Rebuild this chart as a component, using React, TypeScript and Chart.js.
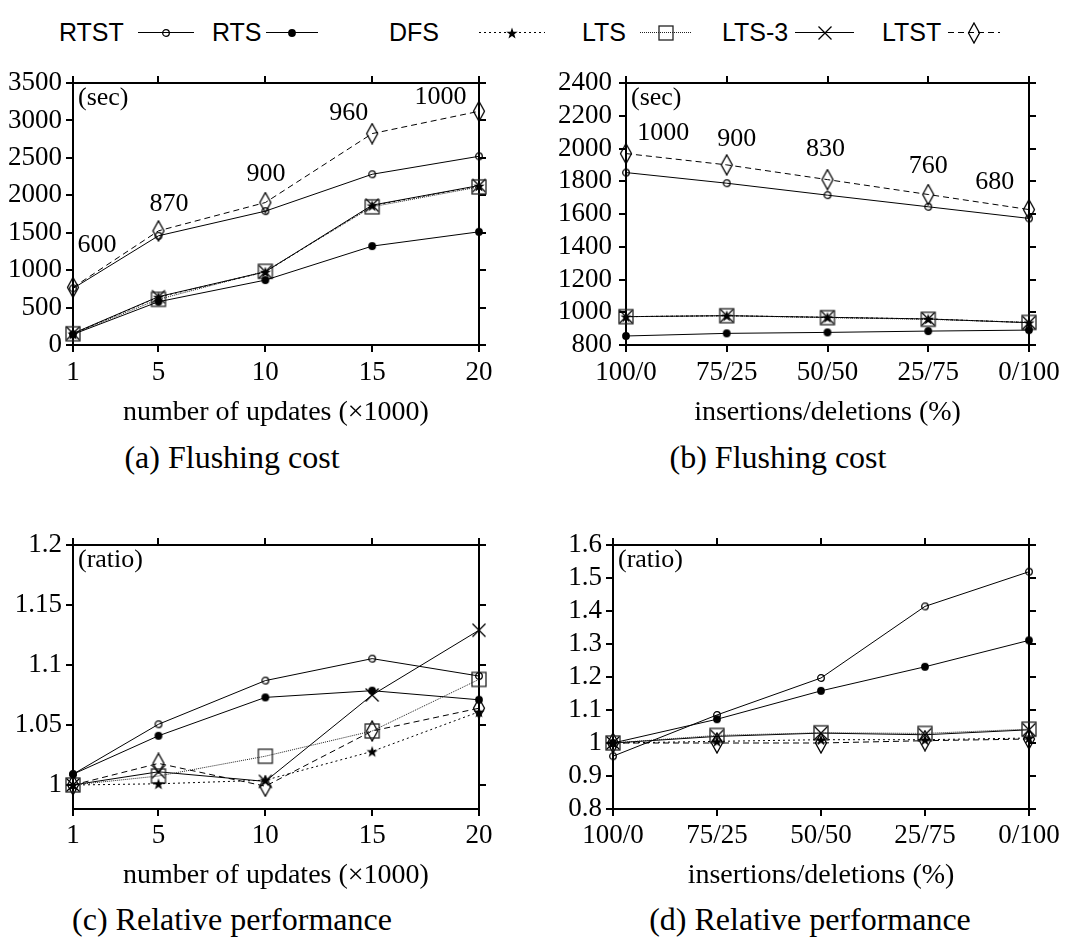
import React, { useEffect, useRef } from "react";
import { Chart, registerables } from "chart.js";
Chart.register(...registerables);

const SERIF = '"Liberation Serif", "Times New Roman", serif';
const SANS = '"Liberation Sans", Arial, sans-serif';

const seriesNames = ["RTST", "RTS", "DFS", "LTS", "LTS-3", "LTST"];

// ---- (a) flushing cost vs number of updates
const updates = [1, 5, 10, 15, 20];
const flushA_RTST = [756, 1459, 1788, 2281, 2521];
const flushA_RTS = [142, 578, 867, 1321, 1512];
const flushA_DFS = [150, 640, 975, 1862, 2125];
const flushA_LTS = [150, 610, 985, 1846, 2112];
const flushA_LTS3 = [155, 645, 978, 1868, 2130];
const flushA_LTST = [769, 1525, 1903, 2824, 3122];
const flushA_ticks = [0, 500, 1000, 1500, 2000, 2500, 3000, 3500];
const flushA_notes = ["600", "870", "900", "960", "1000"];
const flushA_noteX = [2.12, 5.49, 10.03, 13.9, 18.2];
const flushA_noteY = [1336, 1884, 2284, 3099, 3313];

// ---- (b) flushing cost vs insertions/deletions
const mixes = ["100/0", "75/25", "50/50", "25/75", "0/100"];
const flushB_RTST = [1853, 1788, 1715, 1644, 1573];
const flushB_RTS = [855, 871, 877, 885, 891];
const flushB_DFS = [973, 979, 969, 959, 937];
const flushB_LTS = [973, 979, 967, 957, 938];
const flushB_LTS3 = [973, 979, 969, 959, 936];
const flushB_LTST = [1969, 1900, 1810, 1719, 1627];
const flushB_ticks = [800, 1000, 1200, 1400, 1600, 1800, 2000, 2200, 2400];
const flushB_notes = ["1000", "900", "830", "760", "680"];
const flushB_noteX = [0.37, 1.1, 1.98, 3.0, 3.66];
const flushB_noteY = [2096, 2056, 1997, 1893, 1797];

// ---- (c) relative performance vs number of updates
const relC_RTST = [1.009, 1.0506, 1.087, 1.1053, 1.0908];
const relC_RTS = [1.009, 1.041, 1.073, 1.0786, 1.071];
const relC_DFS = [1.0, 1.001, 1.004, 1.028, 1.061];
const relC_LTS = [1.0, 1.0075, 1.024, 1.045, 1.088];
const relC_LTS3 = [1.0, 1.011, 1.003, 1.075, 1.129];
const relC_LTST = [1.0, 1.018, 0.999, 1.045, 1.064];
const relC_ticks = [1, 1.05, 1.1, 1.15, 1.2];

// ---- (d) relative performance vs insertions/deletions
const relD_RTST = [0.96, 1.085, 1.197, 1.414, 1.519];
const relD_RTS = [1.0, 1.072, 1.158, 1.231, 1.311];
const relD_DFS = [1.0, 1.005, 1.01, 1.01, 1.015];
const relD_LTS = [1.0, 1.023, 1.031, 1.029, 1.042];
const relD_LTS3 = [1.0, 1.02, 1.03, 1.025, 1.04];
const relD_LTST = [1.0, 1.0, 1.0, 1.007, 1.012];
const relD_ticks = [0.8, 0.9, 1.0, 1.1, 1.2, 1.3, 1.4, 1.5, 1.6];

// ---- styles
const seriesStyle = [
  { marker: "circle", dash: [], color: "#000" },
  { marker: "dot", dash: [], color: "#000" },
  { marker: "star", dash: [2, 3], color: "#000" },
  { marker: "square", dash: [1, 1], color: "#222" },
  { marker: "cross", dash: [], color: "#000" },
  { marker: "diamond", dash: [6, 4], color: "#000" },
];

function makeMarker(kind: string): HTMLCanvasElement {
  const c = document.createElement("canvas");
  const dims: any = {
    circle: [10, 10],
    dot: [10, 10],
    star: [14, 14],
    square: [18, 18],
    cross: [16, 16],
    diamond: [14, 22],
  };
  const [w, h] = dims[kind];
  c.width = w;
  c.height = h;
  const g = c.getContext("2d")!;
  g.strokeStyle = "#000";
  g.fillStyle = "#000";
  g.lineWidth = 1.3;
  const cx = w / 2;
  const cy = h / 2;
  if (kind === "circle") {
    g.beginPath();
    g.arc(cx, cy, 3.3, 0, Math.PI * 2);
    g.stroke();
  } else if (kind === "dot") {
    g.beginPath();
    g.arc(cx, cy, 3.9, 0, Math.PI * 2);
    g.fill();
  } else if (kind === "star") {
    g.beginPath();
    for (let i = 0; i < 10; i++) {
      const r = i % 2 === 0 ? 6 : 2.4;
      const a = -Math.PI / 2 + (i * Math.PI) / 5;
      const px = cx + r * Math.cos(a);
      const py = cy + 0.6 + r * Math.sin(a);
      if (i === 0) g.moveTo(px, py);
      else g.lineTo(px, py);
    }
    g.closePath();
    g.fill();
  } else if (kind === "square") {
    g.strokeStyle = "#222";
    g.strokeRect(2, 2, w - 4, h - 4);
  } else if (kind === "cross") {
    g.beginPath();
    g.moveTo(1.5, 1.5);
    g.lineTo(w - 1.5, h - 1.5);
    g.moveTo(w - 1.5, 1.5);
    g.lineTo(1.5, h - 1.5);
    g.stroke();
  } else if (kind === "diamond") {
    g.beginPath();
    g.moveTo(cx, 1);
    g.lineTo(w - 1.5, cy);
    g.lineTo(cx, h - 1);
    g.lineTo(1.5, cy);
    g.closePath();
    g.stroke();
  }
  return c;
}

const notesPlugin = {
  id: "notes",
  afterDatasetsDraw(chart: any, _args: any, opts: any) {
    const { ctx, chartArea } = chart;
    const xs = chart.scales.x;
    const ys = chart.scales.y;
    ctx.save();
    ctx.fillStyle = "#000";
    ctx.font = `26px ${SERIF}`;
    ctx.textBaseline = "middle";
    ctx.textAlign = "center";
    const texts = opts.texts || [];
    for (let i = 0; i < texts.length; i++) {
      ctx.fillText(texts[i], xs.getPixelForValue(opts.xs[i]), ys.getPixelForValue(opts.ys[i]));
    }
    ctx.textAlign = "left";
    ctx.fillText(opts.unit, chartArea.left + 5, chartArea.top + 15);
    ctx.restore();
  },
};

type PanelCfg = {
  key: string;
  left: number;
  top: number;
  width: number;
  height: number;
  area: { l: number; t: number; r: number; b: number };
  categorical: boolean;
  series: number[][];
  yTicks: number[];
  yMin: number;
  yMax: number;
  xTitle: string;
  unit: string;
  notes?: string[];
  noteX?: number[];
  noteY?: number[];
  yPad: number;
  xPad: number;
};

const panels: PanelCfg[] = [
  {
    key: "a", left: 0, top: 50, width: 540, height: 382,
    area: { l: 73, t: 83, r: 479, b: 345 },
    categorical: false,
    series: [flushA_RTST, flushA_RTS, flushA_DFS, flushA_LTS, flushA_LTS3, flushA_LTST],
    yTicks: flushA_ticks, yMin: 0, yMax: 3500,
    xTitle: "number of updates (×1000)", unit: "(sec)",
    notes: flushA_notes, noteX: flushA_noteX, noteY: flushA_noteY,
    yPad: 4, xPad: 5,
  },
  {
    key: "b", left: 540, top: 50, width: 543, height: 382,
    area: { l: 626, t: 83, r: 1029, b: 345 },
    categorical: true,
    series: [flushB_RTST, flushB_RTS, flushB_DFS, flushB_LTS, flushB_LTS3, flushB_LTST],
    yTicks: flushB_ticks, yMin: 800, yMax: 2400,
    xTitle: "insertions/deletions (%)", unit: "(sec)",
    notes: flushB_notes, noteX: flushB_noteX, noteY: flushB_noteY,
    yPad: 7, xPad: 5,
  },
  {
    key: "c", left: 0, top: 510, width: 540, height: 385,
    area: { l: 73, t: 545, r: 479, b: 809 },
    categorical: false,
    series: [relC_RTST, relC_RTS, relC_DFS, relC_LTS, relC_LTS3, relC_LTST],
    yTicks: relC_ticks, yMin: 0.98, yMax: 1.2,
    xTitle: "number of updates (×1000)", unit: "(ratio)",
    yPad: 4, xPad: 4,
  },
  {
    key: "d", left: 540, top: 510, width: 543, height: 385,
    area: { l: 613, t: 545, r: 1029, b: 809 },
    categorical: true,
    series: [relD_RTST, relD_RTS, relD_DFS, relD_LTS, relD_LTS3, relD_LTST],
    yTicks: relD_ticks, yMin: 0.8, yMax: 1.6,
    xTitle: "insertions/deletions (%)", unit: "(ratio)",
    yPad: 4, xPad: 4,
  },
];

const captions = [
  { text: "(a) Flushing cost", cx: 232, cy: 457 },
  { text: "(b) Flushing cost", cx: 778, cy: 457 },
  { text: "(c) Relative performance", cx: 232, cy: 919 },
  { text: "(d) Relative performance", cx: 810, cy: 919 },
];

const legendLayout = [
  { text: 59, sym: 138, w: 56 },
  { text: 212, sym: 266, w: 52 },
  { text: 389, sym: 479, w: 66 },
  { text: 582, sym: 640, w: 52 },
  { text: 722, sym: 795, w: 59 },
  { text: 882, sym: 948, w: 52 },
];

function fmt(v: number) {
  return String(Math.round(v * 1000) / 1000);
}

function buildConfig(p: PanelCfg): any {
  const markers = seriesStyle.map((s) => makeMarker(s.marker));
  const datasets = p.series.map((vals, i) => ({
    label: seriesNames[i],
    data: p.categorical ? vals : vals.map((v, j) => ({ x: updates[j], y: v })),
    borderColor: seriesStyle[i].color,
    backgroundColor: "transparent",
    borderWidth: 1,
    borderDash: seriesStyle[i].dash,
    pointStyle: markers[i],
    pointRadius: 5,
    fill: false,
    tension: 0,
    clip: false,
  }));

  const zeroPad = (s: any) => {
    s.paddingLeft = 0;
    s.paddingRight = 0;
    s.paddingTop = 0;
    s.paddingBottom = 0;
  };
  const grid = {
    display: true,
    drawOnChartArea: false,
    drawTicks: true,
    tickLength: 7,
    tickWidth: 2,
    tickColor: "#000",
    color: "#000",
    lineWidth: 2,
  };
  const border = { display: true, color: "#000", width: 2 };
  const tickFont = { family: SERIF, size: 27 };

  const areaLeft = p.area.l - p.left;
  const areaRight = p.left + p.width - p.area.r;
  const areaTop = p.area.t - p.top;
  const areaBottom = p.top + p.height - p.area.b;

  const xBase: any = p.categorical
    ? { type: "category", labels: mixes, offset: false }
    : {
        type: "linear",
        min: updates[0],
        max: updates[updates.length - 1],
        afterBuildTicks: (s: any) => {
          s.ticks = updates.map((v) => ({ value: v }));
        },
      };
  const yBase: any = {
    type: "linear",
    min: p.yMin,
    max: p.yMax,
    afterBuildTicks: (s: any) => {
      s.ticks = p.yTicks.map((v) => ({ value: v }));
    },
  };

  return {
    type: "line",
    data: { labels: p.categorical ? mixes : undefined, datasets },
    plugins: [notesPlugin],
    options: {
      responsive: false,
      animation: false,
      devicePixelRatio: 1,
      events: [],
      layout: {
        padding: { left: 0, top: areaTop - 7, right: areaRight - 7, bottom: 0 },
      },
      plugins: {
        legend: { display: false },
        tooltip: { enabled: false },
        notes: {
          texts: p.notes || [],
          xs: p.noteX || [],
          ys: p.noteY || [],
          unit: p.unit,
        },
      },
      scales: {
        x: {
          ...xBase,
          position: "bottom",
          grid,
          border,
          ticks: {
            font: tickFont,
            color: "#000",
            padding: p.xPad,
            maxRotation: 0,
            autoSkip: false,
            callback: function (this: any, v: any, idx: number) {
              return p.categorical ? mixes[idx] : String(v);
            },
          },
          title: {
            display: true,
            text: p.xTitle,
            color: "#000",
            font: { family: SERIF, size: 28 },
            padding: { top: 0, bottom: 3 },
          },
          afterFit: (s: any) => {
            s.height = areaBottom;
            zeroPad(s);
          },
        },
        y: {
          ...yBase,
          position: "left",
          grid,
          border,
          ticks: {
            font: tickFont,
            color: "#000",
            padding: p.yPad,
            autoSkip: false,
            callback: (v: any) => fmt(v),
          },
          afterFit: (s: any) => {
            s.width = areaLeft;
            zeroPad(s);
          },
        },
        x2: {
          ...xBase,
          position: "top",
          grid,
          border,
          ticks: { display: false, autoSkip: false },
          afterFit: (s: any) => {
            s.height = 7;
            zeroPad(s);
          },
        },
        y2: {
          ...yBase,
          position: "right",
          grid,
          border,
          ticks: { display: false, autoSkip: false },
          afterFit: (s: any) => {
            s.width = 7;
            zeroPad(s);
          },
        },
      },
    },
  };
}

function Panel({ p }: { p: PanelCfg }) {
  const ref = useRef<HTMLCanvasElement>(null);
  useEffect(() => {
    const chart = new Chart(ref.current as HTMLCanvasElement, buildConfig(p));
    return () => chart.destroy();
  }, []);
  return (
    <canvas
      ref={ref}
      width={p.width}
      height={p.height}
      style={{ position: "absolute", left: p.left, top: p.top, width: p.width, height: p.height }}
    />
  );
}

function Legend() {
  const refs = useRef<(HTMLCanvasElement | null)[]>([]);
  useEffect(() => {
    refs.current.forEach((c, i) => {
      if (!c) return;
      const g = c.getContext("2d")!;
      g.clearRect(0, 0, c.width, c.height);
      const st = seriesStyle[i];
      g.strokeStyle = st.color;
      g.lineWidth = 1;
      g.setLineDash(st.dash);
      g.beginPath();
      g.moveTo(0, 15.5);
      g.lineTo(c.width, 15.5);
      g.stroke();
      const m = makeMarker(st.marker);
      g.drawImage(m, Math.round(c.width / 2 - m.width / 2), Math.round(15.5 - m.height / 2));
    });
  }, []);
  return (
    <>
      {legendLayout.map((L, i) => (
        <React.Fragment key={i}>
          <div
            style={{
              position: "absolute",
              left: L.text,
              top: 17,
              height: 30,
              lineHeight: "30px",
              fontFamily: SANS,
              fontSize: 25,
              color: "#000",
              whiteSpace: "nowrap",
            }}
          >
            {seriesNames[i]}
          </div>
          <canvas
            ref={(el) => {
              refs.current[i] = el;
            }}
            width={L.w}
            height={30}
            style={{ position: "absolute", left: L.sym, top: 17, width: L.w, height: 30 }}
          />
        </React.Fragment>
      ))}
    </>
  );
}

export default function App() {
  return (
    <div
      style={{
        position: "absolute",
        left: 0,
        top: 0,
        width: 1083,
        height: 937,
        background: "#fff",
        overflow: "hidden",
      }}
    >
      <Legend />
      {panels.map((p) => (
        <Panel key={p.key} p={p} />
      ))}
      {captions.map((c, i) => (
        <div
          key={i}
          style={{
            position: "absolute",
            left: c.cx - 250,
            width: 500,
            top: c.cy - 20,
            height: 40,
            lineHeight: "40px",
            textAlign: "center",
            fontFamily: SERIF,
            fontSize: 32,
            color: "#000",
            whiteSpace: "nowrap",
          }}
        >
          {c.text}
        </div>
      ))}
    </div>
  );
}
